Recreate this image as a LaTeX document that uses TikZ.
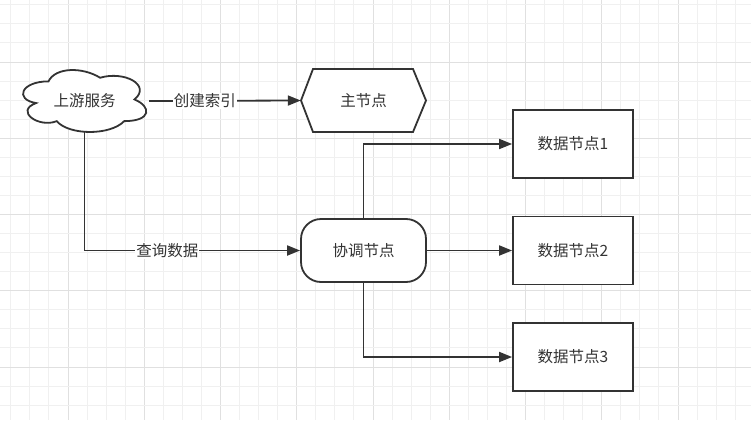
\documentclass[tikz,border=0pt]{standalone}
\usepackage{fontspec}
\newfontfamily\cjk{Noto Sans CJK SC}
\usetikzlibrary{arrows.meta,calc}
\definecolor{ln}{HTML}{333333}
\definecolor{txt}{HTML}{333333}
\definecolor{gridminor}{HTML}{F0F0F0}
\definecolor{gridmajor}{HTML}{E0E0E0}
\tikzset{
  shapeline/.style={draw=ln, line width=1.8pt, fill=white},
  boxnode/.style={shapeline, rectangle, minimum width=120pt, minimum height=68pt, inner sep=0pt},
  ghost/.style={rectangle, inner sep=0pt},
  conn/.style={draw=ln, line width=1.8pt, -{Triangle[length=13pt,width=10pt]}},
  lbl/.style={fill=white, inner sep=1pt, text=txt}
}
\begin{document}
\begin{tikzpicture}[x=1pt,y=-1pt, font=\cjk\fontsize{15.5}{18}\selectfont, text=txt]
\useasboundingbox (0,0) rectangle (751,420);
\fill[white] (0,0) rectangle (751,420);
% grid
\foreach \k in {-3,...,36} {
  \pgfmathsetmacro\gx{68+19.0625*\k}
  \pgfmathtruncatemacro\m{mod(\k+40,4)}
  \ifnum\m=0
    \draw[gridmajor, line width=1pt] (\gx,0) -- (\gx,420);
  \else
    \draw[gridminor, line width=1pt] (\gx,0) -- (\gx,420);
  \fi
}
\foreach \k in {-3,...,18} {
  \pgfmathsetmacro\gy{62+19.0625*\k}
  \pgfmathtruncatemacro\m{mod(\k+40,4)}
  \ifnum\m=0
    \draw[gridmajor, line width=1pt] (0,\gy) -- (751,\gy);
  \else
    \draw[gridminor, line width=1pt] (0,\gy) -- (751,\gy);
  \fi
}
% cloud shape
\begin{scope}[shift={(14.1,63.3)}, x=137.6pt, y=-72.3pt]
\path[shapeline] (0.25,0.25)
  .. controls (0.05,0.25) and (0,0.5) .. (0.16,0.55)
  .. controls (0,0.66) and (0.18,0.9) .. (0.31,0.8)
  .. controls (0.4,1) and (0.7,1) .. (0.8,0.8)
  .. controls (1,0.8) and (1,0.6) .. (0.875,0.5)
  .. controls (1,0.3) and (0.8,0.1) .. (0.625,0.2)
  .. controls (0.5,0.05) and (0.3,0.05) .. (0.25,0.25) -- cycle;
\end{scope}
\node[ghost, minimum width=123pt, minimum height=62pt] (up) at (84.5,101) {上游服务};
% hexagon
\path[shapeline] (301,100.5) -- (313,69) -- (413,69) -- (426,100.5) -- (413,132) -- (313,132) -- cycle;
\node[ghost, minimum width=125pt, minimum height=63pt] (main) at (363.5,100.5) {主节点};
% coordinator
\node[shapeline, rectangle, rounded corners=20pt, minimum width=125pt, minimum height=63pt, inner sep=0pt] (coord) at (363.5,250.5) {协调节点};
% data nodes
\node[boxnode] (d1) at (573,144) {数据节点1};
\node[boxnode] (d2) at (573,250.5) {数据节点2};
\node[boxnode] (d3) at (573,357) {数据节点3};
% connectors
\draw[conn] ([xshift=3pt]up.east) -- node[lbl, pos=0.368] {创建索引} (main.west);
\draw[conn] (up.south) |- node[lbl, pos=0.692] {查询数据} (coord.west);
\draw[conn] (coord.north) |- (d1.west);
\draw[conn] (coord.east) -- (d2.west);
\draw[conn] (coord.south) |- (d3.west);
\end{tikzpicture}
\end{document}
